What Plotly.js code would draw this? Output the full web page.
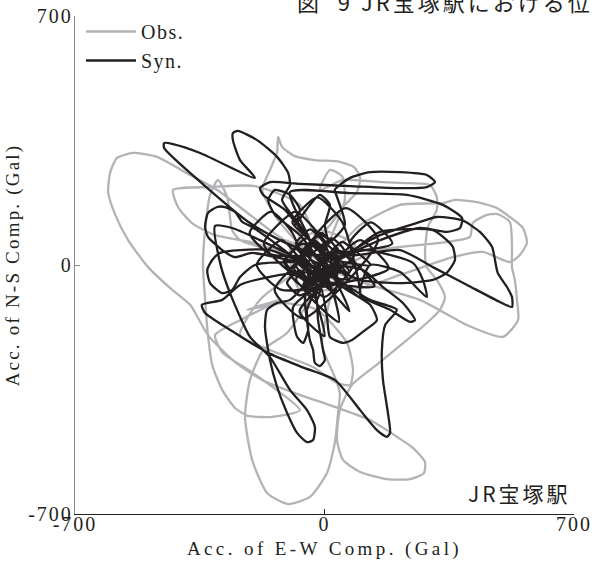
<!DOCTYPE html>
<html>
<head>
<meta charset="utf-8">
<script src="https://cdn.plot.ly/plotly-3.0.1.min.js"></script>
<style>
html, body { margin: 0; padding: 0; background: #fff; }
#chart { width: 592px; height: 563px; }
.xtitle { letter-spacing: 3.4px; }
.ytitle { letter-spacing: 2.2px; }
.xtick text, .ytick text { letter-spacing: 2px; }
.legendtext { letter-spacing: 1.5px; }
.annotation-text { letter-spacing: 3px; }
</style>
</head>
<body>
<div id="chart"></div>
<script>
// Observed orbit (Gal)
const obsEW = [-13,-69,-130,-175,-153,-133,-130,-119,-83,-27,43,83,100,91,57,15,-41,-111,-209,-301,-377,-470,-537,-582,-601,-607,-587,-551,-495,-433,-377,-327,-251,-175,-83,29,128,203,248,282,279,240,175,100,52,35,43,77,156,231,287,324,338,315,287,282,290,315,315,296,240,164,52,-13,
  15,49,57,15,-13,
  100,212,332,366,428,484,520,557,568,548,520,444,360,212,72,1,
  -41,-105,-172,-209,-223,-203,-161,-102,-41,7,29,38,43,29,-7,15,43,
  156,324,408,416,456,486,520,526,526,534,540,543,501,400,268,128,15,
  -69,-195,-321,-425,-411,-372,-307,-209,-97,
  -237,-259,-273,-299,-321,-335,-341,-335,-327,-315,-287,-251,-215,-147,-69,-200,-287,-307,-237,-125,
  -217,-116,-21,63,80,72,35,-32,-153,-237,-181,-69,
  72,57,-69,-97,-13,86,15];
const obsNS = [8,56,126,211,267,318,360,332,306,295,290,275,245,205,169,112,56,70,141,211,253,304,315,301,261,205,141,70,-6,-65,-112,-197,-273,-323,-360,-399,-436,-483,-514,-554,-585,-602,-602,-582,-548,-492,-408,-337,-273,-211,-163,-126,-90,-42,-6,34,107,155,191,225,230,233,239,211,
  267,250,183,70,0,
  112,169,174,183,177,160,135,104,62,28,8,37,22,-28,-70,-28,
  -98,-191,-239,-323,-427,-548,-641,-672,-652,-585,-500,-416,-360,-315,-225,-98,-14,
  42,62,79,118,141,143,121,56,-6,-42,-98,-155,-202,-169,-98,-56,-8,
  169,222,219,211,163,118,84,65,28,
  70,98,191,239,197,98,0,-98,-197,-281,-351,-402,-424,-427,-408,-304,-245,-197,-155,-98,
  -126,-107,-126,-219,-295,-337,-332,-287,-239,-197,-98,-14,
  42,-56,-70,42,98,56,8];

// Synthetic orbit (Gal)
const synEW = [-7,-125,-209,-335,-450,-450,-425,-349,-195,-237,-257,-257,-243,-189,-133,-102,-97,-119,-69,-18,
  57,38,29,43,72,128,212,287,310,287,212,72,-69,-153,-181,-172,-111,-41,
  -97,72,231,332,386,380,343,268,156,43,
  156,268,315,386,436,470,486,512,526,526,492,400,304,212,72,
  156,304,343,360,366,343,304,212,100,15,
  108,164,220,254,240,184,100,128,212,287,276,248,100,-13,
  -125,-237,-287,-344,-335,-251,-158,-63,29,100,147,175,184,178,164,161,170,203,128,15,
  -181,-259,-307,-293,-265,-209,-153,-97,-49,-27,-32,-49,-77,-105,-133,-153,-167,-161,-133,-97,-41,
  -203,-231,-251,-279,-301,-327,-335,-327,-287,-251,-203,-69,
  -153,-237,-293,-315,-329,-321,-287,-259,-237,-195,-41,
  -55,-41,-32,-27,-13,1,-4,-18,-27,
  -88,-77,-60,-46,-49,-13,7,15,52,77,114,147,128,43,
  -69,-139,-158,-139,-97,-69,-83,-41,-13,15,1,
  10,-80,-170,-80, 140,40,-60,40, 20,-60,-140,-60, 150,60,-30,60, -50,-120,-190,-120,
  180,100,20,100, 50,-20,-90,-20, 70,0,-70,0, -90,-150,-210,-150, 190,130,70,130,
  10,-30,-70,-30, 45,10,-25,10, -20,-60,-100,-60, 55,20,-15,20, 0,-40,-80,-40, -45,-80,-115,-80,
  40,0,-40,0, 80,40,0,40, 15,-20,-55,-20, -5,-50,-95,-50, 65,30,-5,30, 30,-10,-50,-10,
  -35,-70,-105,-70, 85,50,15,50, 5,-40,-85,-40, 40,0,-40,0, 40,-20,-80,-20, 35,10,-15,10,
  -20,-50,-80,-50, 0,-30,-60,-30, 70,20,-30,20, -10,-60,-110,-60, 20,-10,-40,-10, 45,-10,-65,-10];
const synNS = [20,70,118,222,329,343,340,315,245,295,351,371,377,351,304,259,225,183,112,42,
  112,183,211,225,245,261,261,253,233,219,216,222,228,233,216,197,155,70,
  205,202,197,169,132,104,93,104,70,20,
  84,121,135,126,93,51,-22,-62,-90,-118,-104,-56,-6,42,28,
  93,98,70,51,14,-22,-42,-51,-42,0,
  -14,-62,-107,-155,-160,-126,-84,0,-20,-90,-42,6,42,-14,
  -28,-56,-98,-112,-135,-191,-247,-287,-323,-408,-464,-483,-472,-416,-323,-239,-169,-126,-98,-28,
  70,104,110,6,-79,-202,-259,-351,-408,-455,-492,-498,-472,-416,-343,-267,-174,-126,-107,-98,-28,
  107,121,149,163,163,146,107,79,42,22,34,8,
  42,42,34,14,-14,-51,-79,-70,-34,0,0,
  -98,-211,-239,-275,-284,-267,-239,-155,-70,
  -118,-202,-219,-183,-126,-56,-146,-202,-219,-211,-183,-155,-112,-56,
  84,141,183,211,197,155,112,169,197,169,112,
  60,150,60,-30, -60,40,-60,-160, -70,10,-70,-150, 70,160,70,-20, 0,70,0,-70,
  -10,70,-10,-90, 120,190,120,50, -130,-60,-130,-200, 90,150,90,30, 60,120,60,0,
  20,60,20,-20, -10,25,-10,-45, -20,20,-20,-60, 40,75,40,5, 60,100,60,20, 10,45,10,-25,
  -50,-10,-50,-90, 0,40,0,-40, -60,-25,-60,-95, 30,75,30,-15, -40,-5,-40,-75, 50,90,50,10,
  -50,-15,-50,-85, 30,65,30,-5, -10,35,-10,-55, 20,60,20,-20, 0,60,0,-60, 10,35,10,-15,
  -40,-10,-40,-70, 40,70,40,10, -20,30,-20,-70, 10,60,10,-40, -30,0,-30,-60, 30,85,30,-25];

const tickVals = [-700, 0, 700];
const tickText = ['-700', '0', '700'];
const seriesNames = ['Obs.', 'Syn.'];

const serif = 'Liberation Serif, Times New Roman, serif';
const cjk = 'Noto Sans CJK JP, sans-serif';

const traces = [
  {x: obsEW, y: obsNS, name: seriesNames[0], type: 'scatter', mode: 'lines',
   line: {color: '#b3b3b7', width: 2.3, shape: 'spline', smoothing: 0.6}},
  {x: synEW, y: synNS, name: seriesNames[1], type: 'scatter', mode: 'lines',
   line: {color: '#231f20', width: 2.3, shape: 'spline', smoothing: 0.6}}
];

const layout = {
  width: 592, height: 563,
  margin: {l: 75, r: 18, t: 16, b: 49},
  paper_bgcolor: '#fff', plot_bgcolor: '#fff',
  showlegend: true,
  legend: {x: 0.012, y: 1.008, xanchor: 'left', yanchor: 'top', itemwidth: 50,
           font: {family: serif, size: 20, color: '#231f20'},
           bgcolor: 'rgba(0,0,0,0)', tracegroupgap: 0},
  xaxis: {range: [-700, 700], tickvals: tickVals, ticktext: tickText,
          showgrid: false, zeroline: false, showline: true, linecolor: '#231f20', linewidth: 1.2,
          ticks: 'inside', ticklen: 5, tickcolor: '#231f20', ticklabelstandoff: -8,
          tickfont: {family: serif, size: 20, color: '#231f20'},
          title: {text: 'Acc. of E-W Comp. (Gal)', font: {family: serif, size: 19, color: '#231f20'}, standoff: 7}},
  yaxis: {range: [-700, 700], tickvals: tickVals, ticktext: tickText,
          showgrid: false, zeroline: false, showline: true, linecolor: '#8a8a8a', linewidth: 1.2,
          ticks: 'inside', ticklen: 5, tickcolor: '#8a8a8a', ticklabelstandoff: -3,
          tickfont: {family: serif, size: 20, color: '#231f20'},
          title: {text: 'Acc. of N-S Comp. (Gal)', font: {family: serif, size: 19, color: '#231f20'}, standoff: 3}},
  annotations: [
    {text: 'JR宝塚駅', xref: 'paper', yref: 'paper', x: 0.998, y: 0.042,
     xanchor: 'right', yanchor: 'middle', showarrow: false,
     font: {family: cjk, size: 21, color: '#231f20'}},
    {text: '図  9 JR宝塚駅における位相', xref: 'paper', yref: 'paper', x: 0.441, y: 1.03,
     xanchor: 'left', yanchor: 'middle', showarrow: false,
     font: {family: cjk, size: 22, color: '#231f20'}}
  ]
};

Plotly.newPlot('chart', traces, layout, {staticPlot: true, displayModeBar: false});
</script>
</body>
</html>
